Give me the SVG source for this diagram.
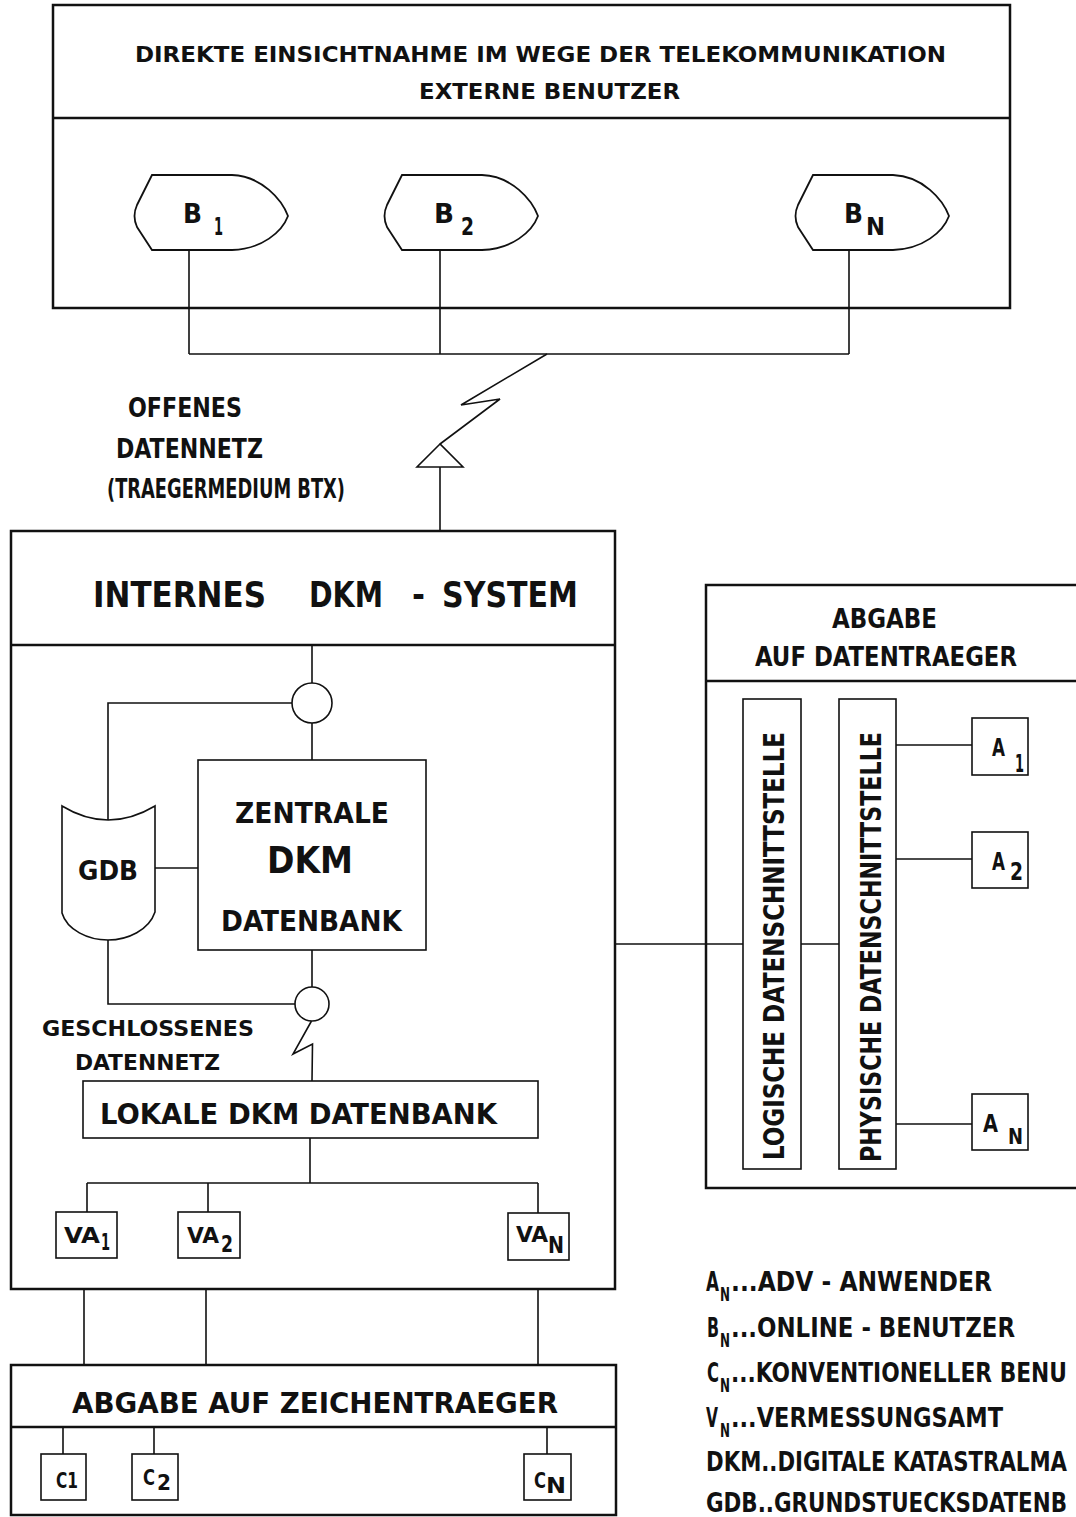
<svg xmlns="http://www.w3.org/2000/svg" xmlns:xlink="http://www.w3.org/1999/xlink" width="1076" height="1517" viewBox="0 0 1076 1517">
<style>
.t{font-family:"DejaVu Sans Condensed","DejaVu Sans",sans-serif;fill:#111;font-weight:bold}
.box{fill:none;stroke:#111;stroke-width:2.5}
.thin{fill:none;stroke:#111;stroke-width:1.6}
.sh{fill:#fff;stroke:#111;stroke-width:1.8}
</style>
<defs>
<path id="bshape" d="M152,175 L232,175 C262,176 282,200 288,216 C282,232 262,249 232,250 L152,250 L137,227 Q132,216 137,205 Z"/>
</defs>
<rect width="1076" height="1517" fill="#fff"/>

<g id="connectors" class="thin">
<path d="M189,250 V354 M440,250 V354 M849,250 V354 M189,354 H849"/>
<path d="M547,354 L461,405 L500,399 L440,444"/>
<path d="M440,444 L417,467 H463 Z"/>
<path d="M440,467 V532"/>
<path d="M312,645 V683 M292,703 H108 V820 M312,723 V760"/>
<path d="M155,868 H198"/>
<path d="M312,950 V987 M108,940 V1004 H295"/>
<path d="M311.5,1021 L293,1054 L312.5,1044 L312,1081"/>
<path d="M310,1138 V1183 M87,1183 H538 M87,1183 V1212 M208,1183 V1212 M538,1183 V1213"/>
<path d="M84,1289 V1365 M206,1289 V1365 M538,1289 V1365"/>
<path d="M63,1427 V1454 M154,1427 V1454 M547,1427 V1454"/>
<path d="M616,944 H743 M801,944 H839"/>
<path d="M896,745 H972 M896,859 H972 M896,1124 H972"/>
</g>

<g id="externe-benutzer">
<rect class="box" x="53" y="5" width="957" height="303"/>
<line class="box" x1="53" y1="118" x2="1010" y2="118"/>
<text class="t" x="135" y="62" font-size="22" textLength="811" lengthAdjust="spacingAndGlyphs">DIREKTE EINSICHTNAHME IM WEGE DER TELEKOMMUNIKATION</text>
<text class="t" x="419" y="99" font-size="22" textLength="261" lengthAdjust="spacingAndGlyphs">EXTERNE BENUTZER</text>
</g>

<g id="b1">
<use xlink:href="#bshape" class="sh"/>
<text class="t" font-size="27"><tspan x="183" y="223" textLength="19" lengthAdjust="spacingAndGlyphs">B</tspan><tspan x="214" y="235" font-size="25" textLength="9" lengthAdjust="spacingAndGlyphs">1</tspan></text>
</g>
<g id="b2">
<use xlink:href="#bshape" class="sh" transform="translate(250,0)"/>
<text class="t" font-size="27"><tspan x="434" y="223" textLength="20" lengthAdjust="spacingAndGlyphs">B</tspan><tspan x="461" y="235" font-size="25" textLength="13" lengthAdjust="spacingAndGlyphs">2</tspan></text>
</g>
<g id="bn">
<use xlink:href="#bshape" class="sh" transform="translate(661,0)"/>
<text class="t" font-size="27"><tspan x="844" y="223" textLength="19" lengthAdjust="spacingAndGlyphs">B</tspan><tspan x="866" y="235" font-size="25" textLength="19" lengthAdjust="spacingAndGlyphs">N</tspan></text>
</g>

<g id="offenes-datennetz">
<text class="t" x="128" y="417" font-size="26" textLength="114" lengthAdjust="spacingAndGlyphs">OFFENES</text>
<text class="t" x="116" y="458" font-size="26" textLength="147" lengthAdjust="spacingAndGlyphs">DATENNETZ</text>
<text class="t" x="107" y="498" font-size="26" textLength="238" lengthAdjust="spacingAndGlyphs">(TRAEGERMEDIUM BTX)</text>
</g>

<g id="internes-system">
<rect class="box" x="11" y="531" width="604" height="758"/>
<line class="box" x1="11" y1="645" x2="615" y2="645"/>
<text class="t" x="93" y="607" font-size="35" textLength="173" lengthAdjust="spacingAndGlyphs">INTERNES</text>
<text class="t" x="309" y="607" font-size="35" textLength="74" lengthAdjust="spacingAndGlyphs">DKM</text>
<text class="t" x="412" y="607" font-size="35" textLength="13" lengthAdjust="spacingAndGlyphs">-</text>
<text class="t" x="442" y="607" font-size="35" textLength="136" lengthAdjust="spacingAndGlyphs">SYSTEM</text>
</g>

<g id="knoten-oben">
<circle class="thin" cx="312" cy="703" r="20"/>
</g>

<g id="zentrale-datenbank">
<rect class="thin" x="198" y="760" width="228" height="190"/>
<text class="t" x="235" y="823" font-size="29" textLength="154" lengthAdjust="spacingAndGlyphs">ZENTRALE</text>
<text class="t" x="267" y="873" font-size="38" textLength="86" lengthAdjust="spacingAndGlyphs">DKM</text>
<text class="t" x="221" y="931" font-size="29" textLength="181" lengthAdjust="spacingAndGlyphs">DATENBANK</text>
</g>

<g id="gdb">
<path class="thin" d="M62,806 Q108,834 155,806 V912 C149,930 128,940 108,940 C88,940 67,930 62,913 Z"/>
<text class="t" x="78" y="880" font-size="26" textLength="60" lengthAdjust="spacingAndGlyphs">GDB</text>
</g>

<g id="knoten-unten">
<circle class="thin" cx="312" cy="1004" r="17"/>
</g>

<g id="geschlossenes-datennetz">
<text class="t" x="42" y="1036" font-size="22" textLength="212" lengthAdjust="spacingAndGlyphs">GESCHLOSSENES</text>
<text class="t" x="75" y="1070" font-size="22" textLength="145" lengthAdjust="spacingAndGlyphs">DATENNETZ</text>
</g>

<g id="lokale-datenbank">
<rect class="thin" x="83" y="1081" width="455" height="57"/>
<text class="t" x="100" y="1124" font-size="29" textLength="397" lengthAdjust="spacingAndGlyphs">LOKALE DKM DATENBANK</text>
</g>

<g id="va1">
<rect class="thin" x="56" y="1212" width="61" height="46"/>
<text class="t" font-size="22"><tspan x="64" y="1243" textLength="36" lengthAdjust="spacingAndGlyphs">VA</tspan><tspan x="101" y="1250" font-size="23" textLength="9" lengthAdjust="spacingAndGlyphs">1</tspan></text>
</g>
<g id="va2">
<rect class="thin" x="178" y="1212" width="62" height="46"/>
<text class="t" font-size="22"><tspan x="187" y="1243" textLength="32" lengthAdjust="spacingAndGlyphs">VA</tspan><tspan x="221" y="1252" font-size="23" textLength="12" lengthAdjust="spacingAndGlyphs">2</tspan></text>
</g>
<g id="van">
<rect class="thin" x="508" y="1213" width="61" height="47"/>
<text class="t" font-size="22"><tspan x="516" y="1242" textLength="32" lengthAdjust="spacingAndGlyphs">VA</tspan><tspan x="548" y="1253" font-size="23" textLength="16" lengthAdjust="spacingAndGlyphs">N</tspan></text>
</g>

<g id="zeichentraeger">
<rect class="box" x="11" y="1365" width="605" height="150"/>
<line class="box" x1="11" y1="1427" x2="616" y2="1427"/>
<text class="t" x="72" y="1413" font-size="28" textLength="486" lengthAdjust="spacingAndGlyphs">ABGABE AUF ZEICHENTRAEGER</text>
</g>
<g id="c1">
<rect class="thin" x="41" y="1454" width="45" height="46"/>
<text class="t" x="56" y="1488" font-size="21" textLength="22" lengthAdjust="spacingAndGlyphs">C1</text>
</g>
<g id="c2">
<rect class="thin" x="132" y="1454" width="46" height="46"/>
<text class="t" font-size="21"><tspan x="143" y="1485" textLength="12" lengthAdjust="spacingAndGlyphs">C</tspan><tspan x="157" y="1490" textLength="14" lengthAdjust="spacingAndGlyphs">2</tspan></text>
</g>
<g id="cn">
<rect class="thin" x="524" y="1454" width="47" height="46"/>
<text class="t" font-size="21"><tspan x="534" y="1488" textLength="12" lengthAdjust="spacingAndGlyphs">C</tspan><tspan x="546" y="1493" textLength="20" lengthAdjust="spacingAndGlyphs">N</tspan></text>
</g>

<g id="datentraeger">
<path class="box" d="M1080,585 H706 V1188 H1080"/>
<line class="box" x1="706" y1="681" x2="1080" y2="681"/>
<text class="t" x="832" y="628" font-size="26" textLength="105" lengthAdjust="spacingAndGlyphs">ABGABE</text>
<text class="t" x="755" y="666" font-size="26" textLength="262" lengthAdjust="spacingAndGlyphs">AUF DATENTRAEGER</text>
</g>
<g id="logische-schnittstelle">
<rect class="thin" x="743" y="699" width="58" height="470"/>
<text class="t" transform="translate(784,1160) rotate(-90)" font-size="28" textLength="428" lengthAdjust="spacingAndGlyphs">LOGISCHE DATENSCHNITTSTELLE</text>
</g>
<g id="physische-schnittstelle">
<rect class="thin" x="839" y="699" width="57" height="470"/>
<text class="t" transform="translate(881,1162) rotate(-90)" font-size="28" textLength="430" lengthAdjust="spacingAndGlyphs">PHYSISCHE DATENSCHNITTSTELLE</text>
</g>
<g id="a1">
<rect class="thin" x="972" y="718" width="56" height="57"/>
<text class="t" font-size="25"><tspan x="992" y="756" textLength="13" lengthAdjust="spacingAndGlyphs">A</tspan><tspan x="1015" y="772" font-size="24" textLength="9" lengthAdjust="spacingAndGlyphs">1</tspan></text>
</g>
<g id="a2">
<rect class="thin" x="972" y="832" width="56" height="56"/>
<text class="t" font-size="25"><tspan x="992" y="870" textLength="13" lengthAdjust="spacingAndGlyphs">A</tspan><tspan x="1010" y="880" font-size="24" textLength="13" lengthAdjust="spacingAndGlyphs">2</tspan></text>
</g>
<g id="an">
<rect class="thin" x="972" y="1094" width="56" height="56"/>
<text class="t" font-size="25"><tspan x="983" y="1132" textLength="15" lengthAdjust="spacingAndGlyphs">A</tspan><tspan x="1008" y="1144" font-size="22" textLength="15" lengthAdjust="spacingAndGlyphs">N</tspan></text>
</g>

<g id="legende">
<text class="t" font-size="27"><tspan x="706" y="1291" textLength="13" lengthAdjust="spacingAndGlyphs">A</tspan><tspan x="720" y="1301" font-size="19" textLength="10" lengthAdjust="spacingAndGlyphs">N</tspan><tspan x="731" y="1291" textLength="261" lengthAdjust="spacingAndGlyphs">...ADV - ANWENDER</tspan></text>
<text class="t" font-size="27"><tspan x="707" y="1337" textLength="12" lengthAdjust="spacingAndGlyphs">B</tspan><tspan x="720" y="1347" font-size="19" textLength="10" lengthAdjust="spacingAndGlyphs">N</tspan><tspan x="731" y="1337" textLength="284" lengthAdjust="spacingAndGlyphs">...ONLINE - BENUTZER</tspan></text>
<text class="t" font-size="27"><tspan x="707" y="1382" textLength="12" lengthAdjust="spacingAndGlyphs">C</tspan><tspan x="720" y="1392" font-size="19" textLength="10" lengthAdjust="spacingAndGlyphs">N</tspan><tspan x="731" y="1382" textLength="336" lengthAdjust="spacingAndGlyphs">...KONVENTIONELLER BENU</tspan></text>
<text class="t" font-size="27"><tspan x="706" y="1427" textLength="12" lengthAdjust="spacingAndGlyphs">V</tspan><tspan x="720" y="1437" font-size="19" textLength="10" lengthAdjust="spacingAndGlyphs">N</tspan><tspan x="731" y="1427" textLength="272" lengthAdjust="spacingAndGlyphs">...VERMESSUNGSAMT</tspan></text>
<text class="t" x="706" y="1471" font-size="27" textLength="361" lengthAdjust="spacingAndGlyphs">DKM..DIGITALE KATASTRALMA</text>
<text class="t" x="706" y="1512" font-size="27" textLength="361" lengthAdjust="spacingAndGlyphs">GDB..GRUNDSTUECKSDATENB</text>
</g>
</svg>
